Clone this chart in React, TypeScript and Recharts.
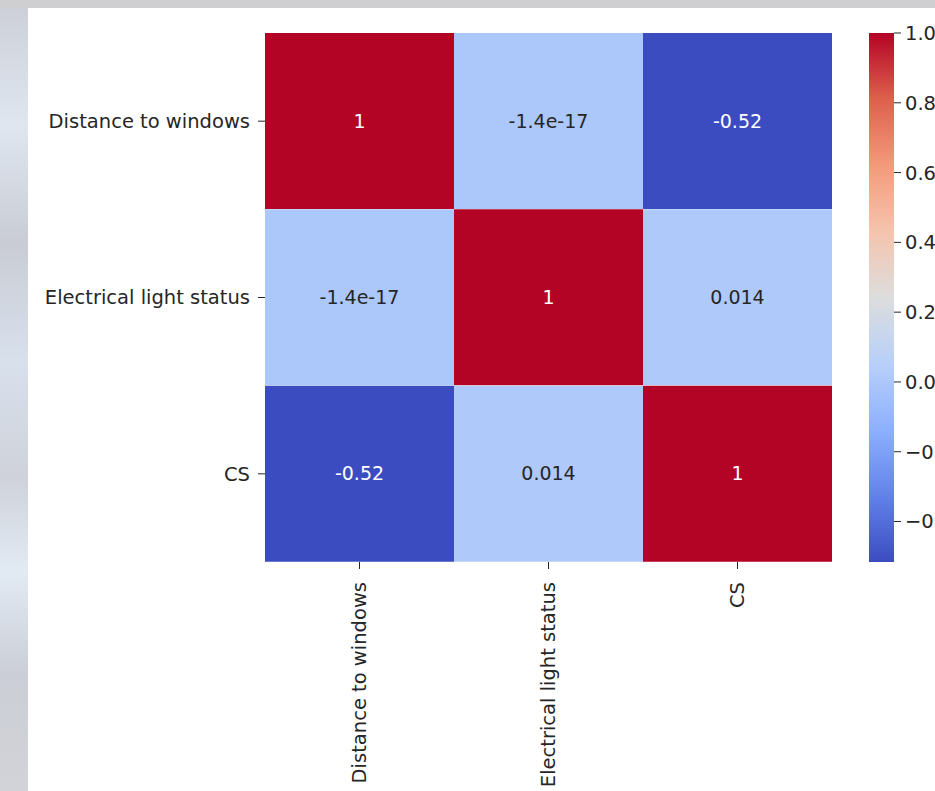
import React from "react";
import { BarChart, Bar, Cell, XAxis, YAxis, LabelList } from "recharts";

// correlation matrix, one array per row
const VARIABLES = ["Distance to windows", "Electrical light status", "CS"];
const distanceToWindows = [1, -1.4e-17, -0.516];
const electricalLightStatus = [-1.4e-17, 1, 0.014];
const csRow = [-0.516, 0.014, 1];
const MATRIX = [distanceToWindows, electricalLightStatus, csRow];

const VMIN = -0.516;
const VMAX = 1;
const CB_TICKS = [-0.4, -0.2, 0, 0.2, 0.4, 0.6, 0.8, 1.0];
const X_TICKS = [0.5, 1.5, 2.5];

// matplotlib coolwarm, sampled every 1/8
const COOLWARM: [number, number, number][] = [
  [59, 76, 192],
  [98, 130, 234],
  [141, 176, 254],
  [184, 208, 249],
  [221, 221, 221],
  [245, 196, 173],
  [244, 154, 123],
  [222, 96, 77],
  [180, 4, 38],
];

const FONT = "'DejaVu Sans', sans-serif";
const TEXT = "#262626";

function cmap(v: number): [number, number, number] {
  let t = (v - VMIN) / (VMAX - VMIN);
  t = Math.max(0, Math.min(1, t));
  const pos = t * (COOLWARM.length - 1);
  const i = Math.min(COOLWARM.length - 2, Math.floor(pos));
  const f = pos - i;
  const a = COOLWARM[i];
  const b = COOLWARM[i + 1];
  return [0, 1, 2].map((k) => Math.round(a[k] + (b[k] - a[k]) * f)) as [number, number, number];
}

const rgb = (c: [number, number, number]) => `rgb(${c[0]},${c[1]},${c[2]})`;

function luminance(c: [number, number, number]) {
  const lin = c.map((x) => {
    const s = x / 255;
    return s <= 0.03928 ? s / 12.92 : Math.pow((s + 0.055) / 1.055, 2.4);
  });
  return 0.2126 * lin[0] + 0.7152 * lin[1] + 0.0722 * lin[2];
}

const fmt2g = (v: number) => v.toPrecision(2).replace(/\.0$/, "");

const rows = VARIABLES.map((name, r) => ({
  name,
  s0: 1,
  s1: 1,
  s2: 1,
  v0: MATRIX[r][0],
  v1: MATRIX[r][1],
  v2: MATRIX[r][2],
}));

const colorbarData = [{ name: "cb", span: [VMIN, VMAX] }];

// gradient runs top (vmax, red) to bottom (vmin, blue)
const gradientStops = COOLWARM.slice().reverse();

const renderAnnot = (props: any) => {
  const { x, y, width, height, value } = props;
  const c = cmap(value);
  const fill = luminance(c) > 0.408 ? TEXT : "#ffffff";
  return (
    <text
      x={x + width / 2}
      y={y + height / 2}
      dy="0.35em"
      textAnchor="middle"
      fontSize={19}
      fontFamily={FONT}
      fill={fill}
    >
      {fmt2g(value)}
    </text>
  );
};

const XTick = (props: any) => {
  const { x, y, payload } = props;
  return (
    <text
      x={x}
      y={y}
      dx={-5}
      dy="0.35em"
      transform={`rotate(-90, ${x}, ${y})`}
      textAnchor="end"
      fontSize={19.5}
      fontFamily={FONT}
      fill={TEXT}
    >
      {VARIABLES[Math.floor(payload.value)]}
    </text>
  );
};

export default function App() {
  return (
    <div
      style={{
        position: "absolute",
        left: 0,
        top: 0,
        width: 935,
        height: 791,
        overflow: "hidden",
        background: "#cfcfd1",
        fontFamily: FONT,
      }}
    >
      <div
        style={{
          position: "absolute",
          left: 0,
          top: 8,
          width: 28,
          height: 783,
          background:
            "linear-gradient(to bottom, #cdd0d8 0%, #dfe6f0 15%, #c9ccd4 30%, #d8e0ec 45%, #cfd2da 60%, #e2eaf4 72%, #cbced6 85%, #d2d3d8 100%)",
        }}
      />
      <div
        style={{
          position: "absolute",
          left: 28,
          top: 8,
          width: 907,
          height: 783,
          background: "#ffffff",
        }}
      />

      <div style={{ position: "absolute", left: 0, top: 0 }}>
        <BarChart
          width={935}
          height={791}
          data={rows}
          layout="vertical"
          margin={{ top: 33, right: 103, bottom: 29, left: 25 }}
          barCategoryGap={0}
          barGap={0}
        >
          <XAxis
            type="number"
            domain={[0, 3]}
            ticks={X_TICKS}
            interval={0}
            height={200}
            axisLine={false}
            tickSize={7}
            tickMargin={8}
            tickLine={{ stroke: TEXT }}
            tick={<XTick />}
            allowDataOverflow
          />
          <YAxis
            type="category"
            dataKey="name"
            width={240}
            axisLine={false}
            tickSize={7}
            tickMargin={8}
            tickLine={{ stroke: TEXT }}
            tick={{ fontSize: 19.5, fill: TEXT, fontFamily: FONT }}
          />
          {[0, 1, 2].map((col) => (
            <Bar
              key={col}
              dataKey={`s${col}`}
              stackId="m"
              isAnimationActive={false}
            >
              {rows.map((r, i) => (
                <Cell key={i} fill={rgb(cmap((r as any)[`v${col}`]))} />
              ))}
              <LabelList dataKey={`v${col}`} content={renderAnnot} />
            </Bar>
          ))}
        </BarChart>
      </div>

      <div style={{ position: "absolute", left: 850, top: 0 }}>
        <BarChart
          width={150}
          height={791}
          data={colorbarData}
          margin={{ top: 33, right: 46, bottom: 229, left: 19 }}
          barCategoryGap={0}
        >
          <defs>
            <linearGradient id="coolwarmBar" x1="0" y1="0" x2="0" y2="1">
              {gradientStops.map((c, i) => (
                <stop
                  key={i}
                  offset={`${(i / (gradientStops.length - 1)) * 100}%`}
                  stopColor={rgb(c)}
                />
              ))}
            </linearGradient>
          </defs>
          <XAxis dataKey="name" hide />
          <YAxis
            type="number"
            orientation="right"
            domain={[VMIN, VMAX]}
            ticks={CB_TICKS}
            interval={0}
            allowDataOverflow
            width={60}
            axisLine={false}
            tickSize={7}
            tickMargin={4}
            tickLine={{ stroke: TEXT }}
            tick={{ fontSize: 19.5, fill: TEXT, fontFamily: FONT, textAnchor: "start" }}
            tickFormatter={(v: number) => v.toFixed(1).replace("-", "\u2212")}
          />
          <Bar dataKey="span" fill="url(#coolwarmBar)" isAnimationActive={false} />
        </BarChart>
      </div>
    </div>
  );
}
